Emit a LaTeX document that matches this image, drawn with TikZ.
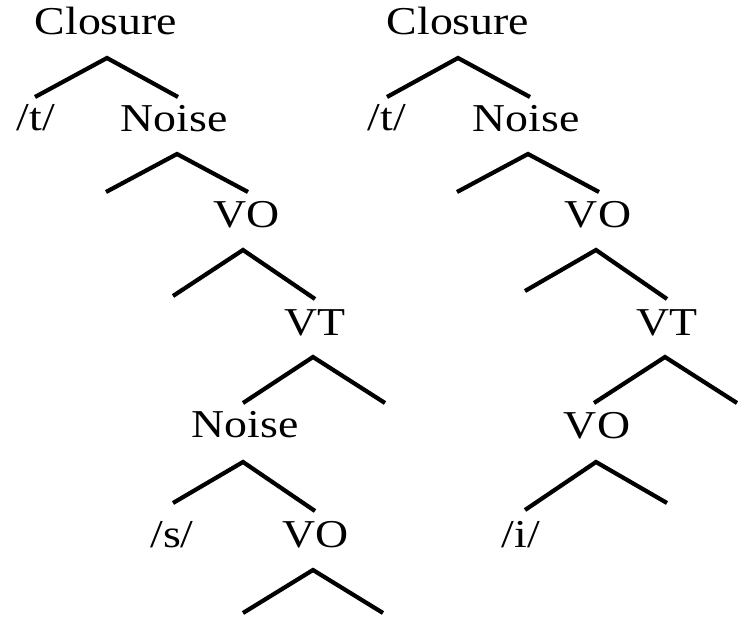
\documentclass[tikz,border=0pt]{standalone}
\usepackage{fontspec}
\setmainfont{Liberation Serif}
\begin{document}
\begin{tikzpicture}[x=1pt,y=1pt,
  lbl/.style={anchor=base, inner sep=0pt, font=\fontsize{39.5}{39.5}\selectfont, xscale=1.16, transform shape},
  branch/.style={line width=4.2pt, line join=miter, line cap=butt}]
\useasboundingbox (0,0) rectangle (738,-618);
% labels (center x, baseline y)
\node[lbl] (clL) at (106,-35) {Closure};
\node[lbl] (tL) at (36,-130) {/t/};
\node[lbl] (noL) at (174,-131) {Noise};
\node[lbl] (voL) at (247,-227) {VO};
\node[lbl] (vtL) at (315,-335) {VT};
\node[lbl] (no2L) at (245,-437) {Noise};
\node[lbl] (sL) at (172,-547) {/s/};
\node[lbl] (vo2L) at (316,-547) {VO};
\node[lbl] (clR) at (458,-35) {Closure};
\node[lbl] (tR) at (387,-130) {/t/};
\node[lbl] (noR) at (526,-131) {Noise};
\node[lbl] (voR) at (598,-227) {VO};
\node[lbl] (vtR) at (667,-335) {VT};
\node[lbl] (vo2R) at (597,-438) {VO};
\node[lbl] (iR) at (521,-547) {/i/};
% branches: name/apex x/apex y/left x/left y/right x/right y
\foreach \n/\ax/\ay/\lx/\ly/\rx/\ry in {
  L1/107/58/35/97/178/97,
  L2/177/154/106/192/248/192,
  L3/243/250/173/296/315/299,
  L4/313/357/243/403/385/403,
  L5/243/462/173/503/315/511,
  L6/313/570/243/613/383/613,
  R1/458/58/387/97/530/97,
  R2/528/154/457/192/599/192,
  R3/596/250/525/291/667/299,
  R4/665/357/594/403/737/403,
  R5/596/462/525/510/667/503}{
  \coordinate (a\n) at (\ax,-\ay);
  \coordinate (l\n) at (\lx,-\ly);
  \coordinate (r\n) at (\rx,-\ry);
  \draw[branch] (l\n) -- (a\n) -- (r\n);
}
\end{tikzpicture}
\end{document}
